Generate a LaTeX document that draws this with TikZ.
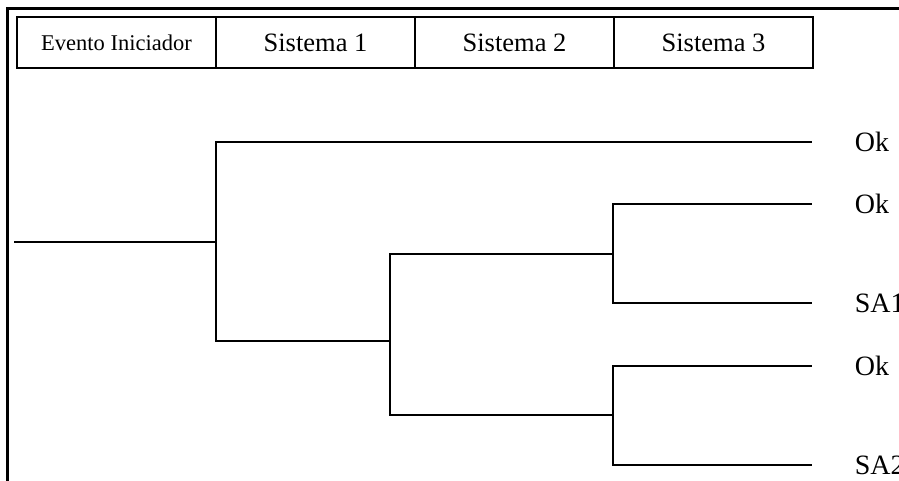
\documentclass[tikz,border=0pt]{standalone}
\usepackage{fontspec}
\setmainfont{Liberation Serif}
\usetikzlibrary{positioning}
\begin{document}
\begin{tikzpicture}[x=1pt, y=-1pt, line width=1.6pt,
  cell/.style={draw, line width=1.4pt, minimum width=199pt, minimum height=51pt,
    inner sep=0pt, outer sep=0pt, font=\fontsize{26.5}{30}\selectfont},
  endstate/.style={anchor=west, inner sep=0pt, font=\fontsize{28}{32}\selectfont}]
\useasboundingbox (0,0) rectangle (899,480);
\clip (0,0) rectangle (899,480);
\draw[line width=3pt] (7,490) -- (7,8) -- (910,8);
% header
\node[cell, font=\fontsize{22.5}{26}\selectfont] (ie) at (116.5,42.5) {Evento Iniciador};
\node[cell, right=0pt of ie] (sys1) {Sistema 1};
\node[cell, right=0pt of sys1] (sys2) {Sistema 2};
\node[cell, right=0pt of sys2] (sys3) {Sistema 3};
% branch points
\coordinate (start) at (14,242);
\coordinate (b1) at (216,242);
\coordinate (b2) at (390,341);
\coordinate (b3a) at (613,254);
\coordinate (b3b) at (613,415);
% end states
\foreach \n/\y/\t in {ok1/142/Ok, ok2/204/Ok, sa1/303/SA1, ok3/366/Ok, sa2/465/SA2}{
  \coordinate (\n) at (812,\y);
  \node[endstate] (\n-lbl) at (854,\y) {\t};
}
\draw (start) -- (b1);
\draw (b1) |- (ok1);  \draw (b1) |- (b2);
\draw (b2) |- (b3a);  \draw (b2) |- (b3b);
\draw (b3a) |- (ok2); \draw (b3a) |- (sa1);
\draw (b3b) |- (ok3); \draw (b3b) |- (sa2);
\end{tikzpicture}
\end{document}
